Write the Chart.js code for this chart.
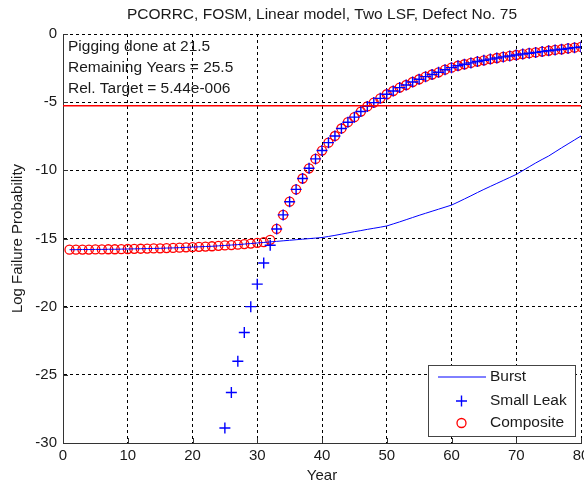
<!DOCTYPE html>
<html>
<head>
<meta charset="utf-8">
<script src="https://cdn.jsdelivr.net/npm/chart.js@4/dist/chart.umd.min.js"></script>
<style>
  body { margin: 0; background: #fff; }
  canvas { display: block; }
</style>
</head>
<body>
<canvas id="chart" width="584" height="487"></canvas>
<script>
// Log failure probability vs year

const years = [
  1, 2, 3, 4, 5, 6, 7, 8, 9, 10, 11, 12, 13, 14, 15, 16, 17, 18, 19, 20,
  21, 22, 23, 24, 25, 26, 27, 28, 29, 30, 31, 32, 33, 34, 35, 36, 37, 38, 39, 40,
  41, 42, 43, 44, 45, 46, 47, 48, 49, 50, 51, 52, 53, 54, 55, 56, 57, 58, 59, 60,
  61, 62, 63, 64, 65, 66, 67, 68, 69, 70, 71, 72, 73, 74, 75, 76, 77, 78, 79, 80
];

const burst = [
  -15.82, -15.82, -15.81, -15.81, -15.80, -15.80, -15.79, -15.79, -15.78, -15.77,
  -15.76, -15.75, -15.74, -15.73, -15.72, -15.70, -15.69, -15.67, -15.65, -15.63,
  -15.61, -15.59, -15.57, -15.54, -15.51, -15.48, -15.45, -15.41, -15.37, -15.33,
  -15.29, -15.25, -15.21, -15.17, -15.13, -15.09, -15.05, -15.01, -14.97, -14.93,
  -14.85, -14.77, -14.68, -14.59, -14.50, -14.42, -14.33, -14.25, -14.17, -14.08,
  -13.93, -13.78, -13.62, -13.46, -13.30, -13.15, -13.00, -12.85, -12.70, -12.55,
  -12.33, -12.10, -11.87, -11.63, -11.40, -11.18, -10.96, -10.74, -10.52, -10.30,
  -10.02, -9.74, -9.46, -9.20, -8.95, -8.65, -8.35, -8.06, -7.77, -7.48
];

// years 1-24 are below -30 and fall off the plot
const smallLeak = [
  null, null, null, null, null, null, null, null, null, null,
  null, null, null, null, null, null, null, null, null, null,
  null, null, null, null, -28.9, -26.3, -24.0, -21.9, -20.0, -18.35,
  -16.8, -15.5, -14.3, -13.27, -12.3, -11.4, -10.6, -9.85, -9.16, -8.55,
  -7.97, -7.48, -6.93, -6.47, -6.10, -5.69, -5.31, -5.03, -4.72, -4.42,
  -4.18, -3.93, -3.74, -3.52, -3.32, -3.13, -2.97, -2.81, -2.62, -2.47,
  -2.33, -2.22, -2.12, -2.02, -1.93, -1.84, -1.76, -1.68, -1.61, -1.54,
  -1.47, -1.41, -1.35, -1.29, -1.23, -1.17, -1.12, -1.06, -1.00, -0.95
];

const composite = [
  -15.82, -15.82, -15.81, -15.81, -15.80, -15.80, -15.79, -15.79, -15.78, -15.77,
  -15.76, -15.75, -15.74, -15.73, -15.72, -15.70, -15.69, -15.67, -15.65, -15.63,
  -15.61, -15.59, -15.57, -15.54, -15.51, -15.48, -15.45, -15.41, -15.37, -15.32,
  -15.27, -15.10, -14.3, -13.27, -12.3, -11.4, -10.6, -9.85, -9.16, -8.55,
  -7.97, -7.48, -6.93, -6.47, -6.10, -5.69, -5.31, -5.03, -4.72, -4.42,
  -4.18, -3.93, -3.74, -3.52, -3.32, -3.13, -2.97, -2.81, -2.62, -2.47,
  -2.33, -2.22, -2.12, -2.02, -1.93, -1.84, -1.76, -1.68, -1.61, -1.54,
  -1.47, -1.41, -1.35, -1.29, -1.23, -1.17, -1.12, -1.06, -1.00, -0.95
];

const relTarget = 5.44e-6;
const targetSpan = [0, 80];

const xTicks = [0, 10, 20, 30, 40, 50, 60, 70, 80];
const yTicks = [-30, -25, -20, -15, -10, -5, 0];

const titleText = 'PCORRC, FOSM, Linear model, Two LSF, Defect No. 75';
const infoLines = ['Pigging done at 21.5', 'Remaining Years = 25.5', 'Rel. Target = 5.44e-006'];
const legendLabels = ['Burst', 'Small Leak', 'Composite'];

const FONT = '"Liberation Sans", Arial, sans-serif';
const TEXT = '#1a1a1a';
const AXIS = '#333';

const toPoints = vals => years.map((x, i) => ({ x, y: vals[i] })).filter(p => p.y !== null);
const targetLog = Math.log10(relTarget);

// title, labels, note text, inside ticks and the legend box
const decor = {
    id: 'decor',
    afterDraw(chart) {
        const ctx = chart.ctx;
        const area = chart.chartArea;
        const xs = chart.scales.x, ys = chart.scales.y;
        ctx.save();

        // inward tick marks, MATLAB style
        ctx.strokeStyle = AXIS;
        ctx.lineWidth = 1;
        ctx.beginPath();
        xTicks.forEach(v => {
            const px = Math.round(xs.getPixelForValue(v)) + 0.5;
            ctx.moveTo(px, area.bottom);
            ctx.lineTo(px, area.bottom - 5);
        });
        yTicks.forEach(v => {
            const py = Math.round(ys.getPixelForValue(v)) + 0.5;
            ctx.moveTo(area.left, py);
            ctx.lineTo(area.left + 5, py);
        });
        ctx.stroke();

        ctx.fillStyle = TEXT;
        ctx.font = '15.5px ' + FONT;
        ctx.textBaseline = 'middle';

        ctx.textAlign = 'center';
        ctx.fillText(titleText, (area.left + area.right) / 2, 15);
        ctx.font = '15px ' + FONT;
        ctx.fillText('Year', (area.left + area.right) / 2, 476);

        ctx.save();
        ctx.translate(18, (area.top + area.bottom) / 2);
        ctx.rotate(-Math.PI / 2);
        ctx.fillText('Log Failure Probability', 0, 0);
        ctx.restore();

        ctx.font = '15.5px ' + FONT;
        ctx.textAlign = 'left';
        infoLines.forEach((line, i) => ctx.fillText(line, 68, 47 + i * 21));

        // legend
        const lx = 428.5, ly = 365.5, lw = 147, lh = 71;
        ctx.fillStyle = '#fff';
        ctx.fillRect(lx, ly, lw, lh);
        ctx.strokeStyle = '#444';
        ctx.strokeRect(lx, ly, lw, lh);

        const rows = [377, 401, 423];
        ctx.strokeStyle = '#0000ff';
        ctx.beginPath();
        ctx.moveTo(438, rows[0]);
        ctx.lineTo(486, rows[0]);
        ctx.stroke();

        ctx.lineWidth = 1.4;
        ctx.beginPath();
        ctx.moveTo(456, rows[1]); ctx.lineTo(467, rows[1]);
        ctx.moveTo(461.5, rows[1] - 5.5); ctx.lineTo(461.5, rows[1] + 5.5);
        ctx.stroke();

        ctx.lineWidth = 1.3;
        ctx.strokeStyle = '#ff0000';
        ctx.beginPath();
        ctx.arc(461.5, rows[2], 4.5, 0, Math.PI * 2);
        ctx.stroke();

        ctx.fillStyle = TEXT;
        legendLabels.forEach((lbl, i) => ctx.fillText(lbl, 490, rows[i]));

        ctx.restore();
    }
};

const noEdgePad = s => {
    s.paddingLeft = 0;
    s.paddingRight = 0;
    s.paddingTop = 0;
    s.paddingBottom = 0;
};

new Chart(document.getElementById('chart').getContext('2d'), {
    type: 'scatter',
    data: {
        datasets: [
            {
                label: 'Target',
                data: targetSpan.map(x => ({ x, y: targetLog })),
                showLine: true,
                borderColor: '#ff0000',
                borderWidth: 1.5,
                pointRadius: 0
            },
            {
                label: legendLabels[0],
                data: toPoints(burst),
                showLine: true,
                borderColor: '#0000ff',
                borderWidth: 1,
                pointRadius: 0
            },
            {
                label: legendLabels[1],
                data: toPoints(smallLeak),
                pointStyle: 'cross',
                pointRadius: 5.5,
                borderColor: '#0000ff',
                borderWidth: 1.4,
                backgroundColor: 'transparent'
            },
            {
                label: legendLabels[2],
                data: toPoints(composite),
                pointStyle: 'circle',
                pointRadius: 4.5,
                borderColor: '#ff0000',
                borderWidth: 1.3,
                backgroundColor: 'transparent'
            }
        ]
    },
    options: {
        responsive: false,
        animation: false,
        devicePixelRatio: 1,
        layout: { autoPadding: false, padding: { top: 34, right: 3, left: 0, bottom: 0 } },
        plugins: {
            legend: { display: false },
            tooltip: { enabled: false }
        },
        scales: {
            x: {
                type: 'linear',
                min: 0,
                max: 80,
                afterBuildTicks: s => { s.ticks = xTicks.map(value => ({ value })); },
                afterFit: s => { s.height = 44; noEdgePad(s); },
                ticks: {
                    color: TEXT,
                    font: { family: FONT, size: 15 },
                    padding: 4,
                    maxRotation: 0,
                    autoSkip: false
                },
                grid: { color: '#000', lineWidth: 1, drawTicks: false },
                border: { color: AXIS, width: 1, dash: [3, 3] }
            },
            y: {
                type: 'linear',
                min: -30,
                max: 0,
                afterBuildTicks: s => { s.ticks = yTicks.map(value => ({ value })); },
                afterFit: s => { s.width = 63; noEdgePad(s); },
                ticks: {
                    color: TEXT,
                    font: { family: FONT, size: 15 },
                    padding: 6,
                    autoSkip: false
                },
                grid: { color: '#000', lineWidth: 1, drawTicks: false },
                border: { color: AXIS, width: 1, dash: [3, 3] }
            }
        }
    },
    plugins: [decor]
});
</script>
</body>
</html>
